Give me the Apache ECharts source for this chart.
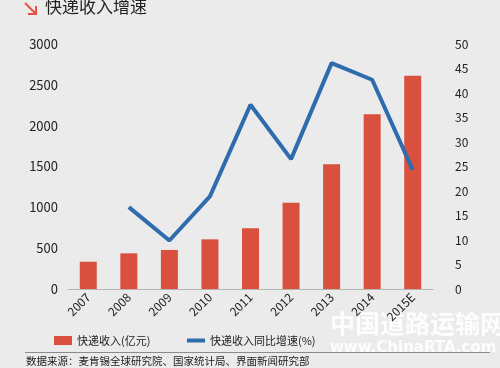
<!DOCTYPE html>
<html><head><meta charset="utf-8">
<script src="https://cdn.jsdelivr.net/npm/echarts@6/dist/echarts.min.js"></script>
<style>html,body{margin:0;padding:0;background:#ebebeb;}#c{width:500px;height:368px;}</style>
</head><body><div id="c"></div>
<script>
const categories = ['2007','2008','2009','2010','2011','2012','2013','2014','2015E'];
const revenue = [334, 437, 478, 608, 743, 1057, 1527, 2139, 2612];
const growth = [null, 16.7, 9.9, 18.9, 37.6, 26.5, 46.1, 42.7, 24.3];
const leftTicks = [0, 500, 1000, 1500, 2000, 2500, 3000];
const rightTicks = [0, 5, 10, 15, 20, 25, 30, 35, 40, 45, 50];
const seriesNames = ['快递收入(亿元)', '快递收入同比增速(%)'];
const title = '快递收入增速';
const source = '数据来源：麦肯锡全球研究院、国家统计局、界面新闻研究部';

const font = '"Noto Sans CJK SC", "Noto Sans", sans-serif';
const chart = echarts.init(document.getElementById('c'), null, {renderer: 'canvas'});
chart.setOption({
  backgroundColor: '#ebebeb',
  animation: false,
  textStyle: {fontFamily: font},
  grid: {left: 68, right: 67, top: 44, bottom: 79},
  xAxis: {
    type: 'category', data: categories,
    axisLine: {lineStyle: {color: '#b5b5b5'}},
    axisTick: {show: false},
    axisLabel: {rotate: 45, color: '#222', fontSize: 12, margin: 6, fontFamily: font}
  },
  yAxis: [{
    type: 'value', min: leftTicks[0], max: leftTicks[leftTicks.length-1], interval: 500,
    splitLine: {show: false}, axisLine: {show: false}, axisTick: {show: false},
    axisLabel: {color: '#222', fontSize: 13, margin: 10, fontFamily: font, formatter: v => String(v)}
  }, {
    type: 'value', min: rightTicks[0], max: rightTicks[rightTicks.length-1], interval: 5,
    splitLine: {show: false}, axisLine: {show: false}, axisTick: {show: false},
    axisLabel: {color: '#222', fontSize: 12, margin: 22, fontFamily: font, formatter: v => String(v)}
  }],
  legend: [{
    left: 49, top: 330, itemWidth: 18, itemHeight: 9, itemGap: 4,
    textStyle: {color: '#222', fontSize: 11, fontFamily: font},
    data: [{name: seriesNames[0], icon: 'rect'}]
  }, {
    left: 182, top: 330, itemWidth: 18, itemHeight: 4, itemGap: 4,
    textStyle: {color: '#222', fontSize: 11, fontFamily: font},
    data: [{name: seriesNames[1], icon: 'rect', itemStyle: {color: '#2f6cae'}}]
  }],
  series: [{
    name: seriesNames[0], type: 'bar', data: revenue, barWidth: 17,
    itemStyle: {color: '#d9503e'}
  }, {
    name: seriesNames[1], type: 'line', yAxisIndex: 1, data: growth,
    symbol: 'none', lineStyle: {color: '#2f6cae', width: 4},
    itemStyle: {color: '#2f6cae'}
  }],
  graphic: [
    {type: 'polyline', shape: {points: [[25,3],[36,14]]}, style: {stroke: '#e8513f', lineWidth: 2, fill: null}},
    {type: 'polyline', shape: {points: [[28,14],[36,14],[36,6]]}, style: {stroke: '#e8513f', lineWidth: 2, fill: null}},
    {type: 'text', left: 45, top: -2, style: {text: title, fill: '#222', font: '17px ' + font}},
    {type: 'line', shape: {x1: 25, y1: 352.5, x2: 490, y2: 352.5}, style: {stroke: '#8a8a8a', lineWidth: 1}},
    {type: 'text', left: 26, top: 356, style: {text: source, fill: '#222', font: '10.5px ' + font}},
    {type: 'text', left: 330, top: 311, style: {text: '中国道路运输网', fill: 'rgba(255,255,255,0.9)', font: 'bold 25px ' + font, shadowColor: 'rgba(0,0,0,0.25)', shadowBlur: 3, shadowOffsetX: 1, shadowOffsetY: 1}},
    {type: 'text', left: 330, top: 341, style: {text: 'www.ChinaRTA.com', fill: 'rgba(255,255,255,0.9)', font: 'bold 15px "DejaVu Sans", sans-serif', shadowColor: 'rgba(0,0,0,0.25)', shadowBlur: 3, shadowOffsetX: 1, shadowOffsetY: 1}}
  ]
});
</script></body></html>
